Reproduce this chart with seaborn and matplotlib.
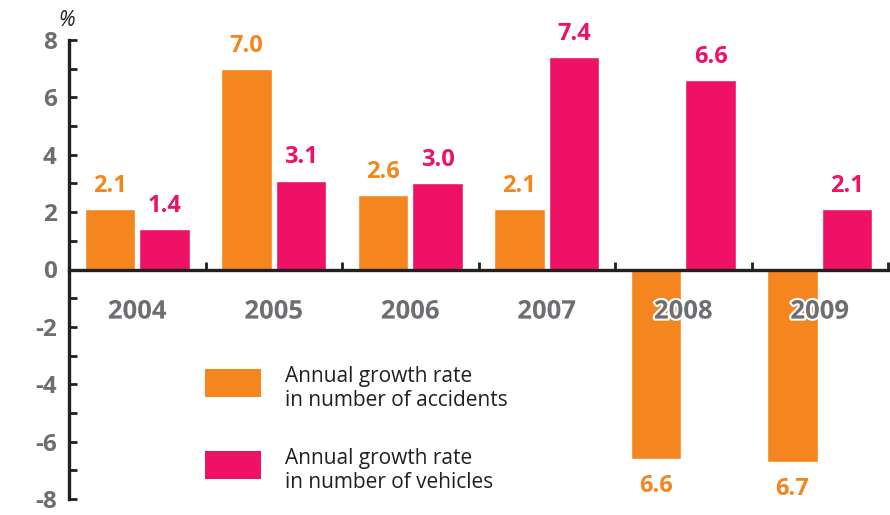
import seaborn as sns
import pandas as pd
import matplotlib.pyplot as plt
import matplotlib.patheffects as pe
from matplotlib.legend_handler import HandlerPatch
from matplotlib.patches import Patch, Rectangle

years = ["2004", "2005", "2006", "2007", "2008", "2009"]
accidents = [2.1, 7.0, 2.6, 2.1, -6.6, -6.7]
vehicles = [1.4, 3.1, 3.0, 7.4, 6.6, 2.1]
series_names = ["Annual growth rate\nin number of accidents",
                "Annual growth rate\nin number of vehicles"]

ORANGE = "#F5861F"
PINK = "#EE1166"
GREY = "#6D6E71"
DARK = "#231F20"

df = pd.concat([
    pd.DataFrame({"year": years, "value": accidents, "series": series_names[0]}),
    pd.DataFrame({"year": years, "value": vehicles, "series": series_names[1]}),
])
palette = {series_names[0]: ORANGE, series_names[1]: PINK}

sns.set_style("white")
plt.rcParams["font.family"] = ["Open Sans", "DejaVu Sans"]
plt.rcParams["axes.unicode_minus"] = False

fig = plt.figure(figsize=(8.9, 5.15), dpi=100)
ax = fig.add_axes([69 / 890, 16 / 515, 819 / 890, 459 / 515])

sns.barplot(data=df, x="year", y="value", hue="series", palette=palette,
            order=years, hue_order=series_names, gap=0.08, saturation=1,
            legend=False, ax=ax, zorder=2)

ax.set_xlim(-0.5, 5.5)
ax.set_ylim(-8, 8)
ax.set_xlabel("")
ax.set_ylabel("")

# value labels: above bars, below (without sign) for negatives
colors = [ORANGE, PINK]
for cont, col in zip(ax.containers, colors):
    for bar in cont:
        h = bar.get_height()
        x = bar.get_x() + bar.get_width() / 2
        if h >= 0:
            ax.annotate(f"{h:.1f}", (x, h), xytext=(0, 8), textcoords="offset points",
                        ha="center", va="bottom", color=col, fontsize=17, fontweight="bold")
        else:
            ax.annotate(f"{abs(h):.1f}", (x, h), xytext=(0, -11), textcoords="offset points",
                        ha="center", va="top", color=col, fontsize=17, fontweight="bold")

# year labels under the zero line
for i, yr in enumerate(years):
    ax.text(i, -1.45, yr, ha="center", va="center", color=GREY, fontsize=18.5,
            fontweight="bold", zorder=5,
            path_effects=[pe.withStroke(linewidth=3, foreground="white")])

# axes styling
for s in ["top", "right"]:
    ax.spines[s].set_visible(False)
ax.spines["bottom"].set_position(("data", 0))
for s in ["left", "bottom"]:
    ax.spines[s].set_color(DARK)
    ax.spines[s].set_linewidth(2.4)
    ax.spines[s].set_zorder(4)

ax.set_yticks(range(-8, 9, 2))
ax.set_yticks(range(-7, 8, 2), minor=True)
ax.tick_params(axis="y", which="both", direction="in", length=6, width=2,
               color=DARK, labelsize=17.5, labelcolor=GREY, pad=9, left=True)
for lbl in ax.get_yticklabels():
    lbl.set_fontweight("bold")

ax.set_xticks([])
ax.set_xticks([i + 0.5 for i in range(len(years))], minor=True)
ax.tick_params(axis="x", which="minor", direction="in", length=6, width=2,
               color=DARK, bottom=True)

ax.text(-0.003, 1.02, "%", transform=ax.transAxes, ha="center", va="bottom",
        fontsize=15, fontstyle="italic", color=DARK)


# legend swatch: full handle height, top level with first text line
def up_rect(legend, orig_handle, xdescent, ydescent, width, height, fontsize):
    full = legend.handleheight * fontsize
    top = -ydescent + 0.42 * fontsize + height
    return Rectangle((-xdescent, top - full), width, full)


handles = [Patch(facecolor=c, edgecolor="none") for c in colors]
ax.legend(handles, series_names, loc="upper left",
          bbox_to_anchor=(205 / 890, 1 - 366 / 515), bbox_transform=fig.transFigure,
          frameon=False, fontsize=15, borderpad=0, borderaxespad=0,
          handlelength=2.7, handleheight=1.35, handletextpad=1.15, labelspacing=1.75,
          labelcolor=DARK, handler_map={Patch: HandlerPatch(patch_func=up_rect)})

fig.savefig("out.png", dpi=100)
